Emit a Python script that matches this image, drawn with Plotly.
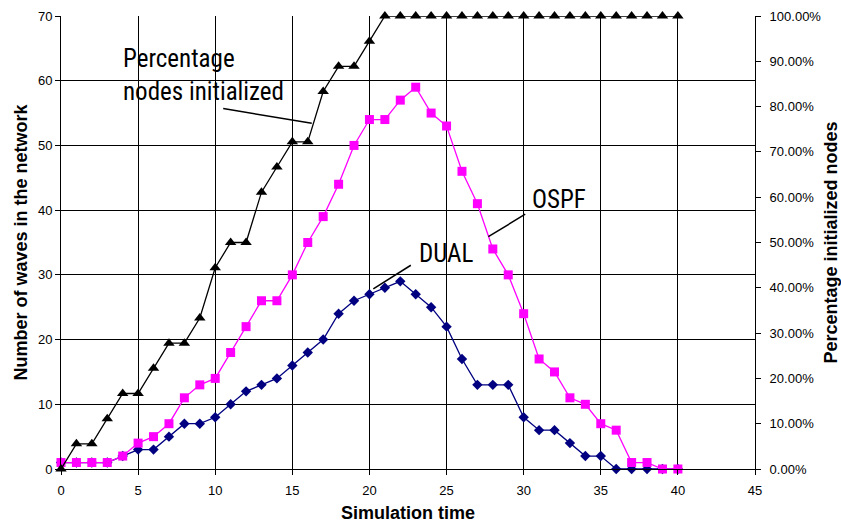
import plotly.graph_objects as go

time = list(range(0, 41))

dual = [1, 1, 1, 1, 2, 3, 3, 5, 7, 7, 8, 10, 12, 13, 14, 16, 18, 20, 24, 26, 27,
        28, 29, 27, 25, 22, 17, 13, 13, 13, 8, 6, 6, 4, 2, 2, 0, 0, 0, 0, 0]

ospf = [1, 1, 1, 1, 2, 4, 5, 7, 11, 13, 14, 18, 22, 26, 26, 30, 35, 39, 44, 50, 54,
        54, 57, 59, 55, 53, 46, 41, 34, 30, 24, 17, 15, 11, 10, 7, 6, 1, 1, 0, 0]

pct_init = [0.0, 0.0556, 0.0556, 0.1111, 0.1667, 0.1667, 0.2222, 0.2778, 0.2778, 0.3333,
            0.4444, 0.5, 0.5, 0.6111, 0.6667, 0.7222, 0.7222, 0.8333, 0.8889, 0.8889,
            0.9444, 1.0, 1.0, 1.0, 1.0, 1.0, 1.0, 1.0, 1.0, 1.0, 1.0, 1.0, 1.0, 1.0,
            1.0, 1.0, 1.0, 1.0, 1.0, 1.0, 1.0]

x_ticks = [0, 5, 10, 15, 20, 25, 30, 35, 40, 45]
y_ticks = [0, 10, 20, 30, 40, 50, 60, 70]
pct_ticks = [0.0, 0.1, 0.2, 0.3, 0.4, 0.5, 0.6, 0.7, 0.8, 0.9, 1.0]

TICK_FONT = dict(family="Liberation Sans, Arial, sans-serif", size=13, color="#000000")
TITLE_FONT = dict(family="Liberation Sans, Arial, sans-serif", size=18, color="#000000")
NOTE_FONT = dict(family="Liberation Sans Narrow, Arial Narrow, Roboto Condensed, Liberation Sans, sans-serif",
                 size=25, color="#000000")

fig = go.Figure()

fig.add_trace(go.Scatter(
    x=time, y=dual, mode="lines+markers", name="DUAL",
    line=dict(color="#000080", width=1.3),
    marker=dict(symbol="diamond", size=8, color="#000080"),
    cliponaxis=False, yaxis="y"))

fig.add_trace(go.Scatter(
    x=time, y=ospf, mode="lines+markers", name="OSPF",
    line=dict(color="#FF00FF", width=1.3),
    marker=dict(symbol="square", size=9, color="#FF00FF"),
    cliponaxis=False, yaxis="y"))

fig.add_trace(go.Scatter(
    x=time, y=pct_init, mode="lines+markers", name="Percentage nodes initialized",
    line=dict(color="#000000", width=1.3),
    marker=dict(symbol="triangle-up", size=10, color="#000000"),
    cliponaxis=False, yaxis="y2"))

annotations = [
    dict(text="Percentage<br>nodes initialized", x=3.9, y=60.9, xref="x", yref="y",
         xanchor="left", yanchor="middle", align="left", showarrow=False, font=NOTE_FONT),
    dict(text="OSPF", x=32.26, y=41.6, xref="x", yref="y",
         xanchor="center", yanchor="middle", showarrow=False, font=NOTE_FONT),
    dict(text="DUAL", x=24.94, y=33.3, xref="x", yref="y",
         xanchor="center", yanchor="middle", showarrow=False, font=NOTE_FONT),
    # leader lines
    dict(text="", x=16.26, y=53.42, ax=10.42, ay=55.74, xref="x", yref="y",
         axref="x", ayref="y", showarrow=True, arrowhead=0, arrowwidth=1.5, arrowcolor="#000000"),
    dict(text="", x=27.71, y=35.90, ax=30.20, ay=39.51, xref="x", yref="y",
         axref="x", ayref="y", showarrow=True, arrowhead=0, arrowwidth=1.5, arrowcolor="#000000"),
    dict(text="", x=20.25, y=27.82, ax=22.78, ay=31.63, xref="x", yref="y",
         axref="x", ayref="y", showarrow=True, arrowhead=0, arrowwidth=1.5, arrowcolor="#000000"),
]

fig.update_layout(
    width=841, height=523,
    margin=dict(l=61, r=86, t=16, b=54, autoexpand=False),
    paper_bgcolor="#FFFFFF", plot_bgcolor="#FFFFFF",
    showlegend=False,
    annotations=annotations,
    xaxis=dict(
        range=[0, 45], tickvals=x_ticks, ticks="outside", ticklen=5, tickcolor="#000000",
        showline=True, linecolor="#000000", linewidth=1, automargin=False,
        showgrid=True, gridcolor="#000000", gridwidth=1, zeroline=False,
        tickfont=TICK_FONT, ticklabelstandoff=4,
        title=dict(text="<b>Simulation time</b>", font=TITLE_FONT, standoff=12),
    ),
    yaxis=dict(
        range=[0, 70], tickvals=y_ticks, ticks="outside", ticklen=5, tickcolor="#000000",
        showline=True, linecolor="#000000", linewidth=1, automargin=False,
        showgrid=True, gridcolor="#000000", gridwidth=1, zeroline=False,
        tickfont=TICK_FONT,
        title=dict(text="<b>Number of waves in the network</b>", font=TITLE_FONT, standoff=5),
    ),
    yaxis2=dict(
        range=[0, 1], tickvals=pct_ticks, tickformat=".2%", overlaying="y", side="right",
        anchor="x", ticks="outside", ticklen=5, tickcolor="#000000", automargin=False,
        showline=True, linecolor="#000000", linewidth=1,
        showgrid=False, zeroline=False, tickfont=TICK_FONT, ticklabelstandoff=6,
        title=dict(text="<b>Percentage initialized nodes</b>", font=TITLE_FONT, standoff=15),
    ),
    yaxis3=dict(
        range=[0, 1], tickvals=pct_ticks, overlaying="y", side="right", anchor="x",
        ticks="inside", ticklen=5, tickcolor="#000000", showticklabels=False,
        showline=False, showgrid=False, zeroline=False, automargin=False,
    ),
)

fig.write_html("out.html")
